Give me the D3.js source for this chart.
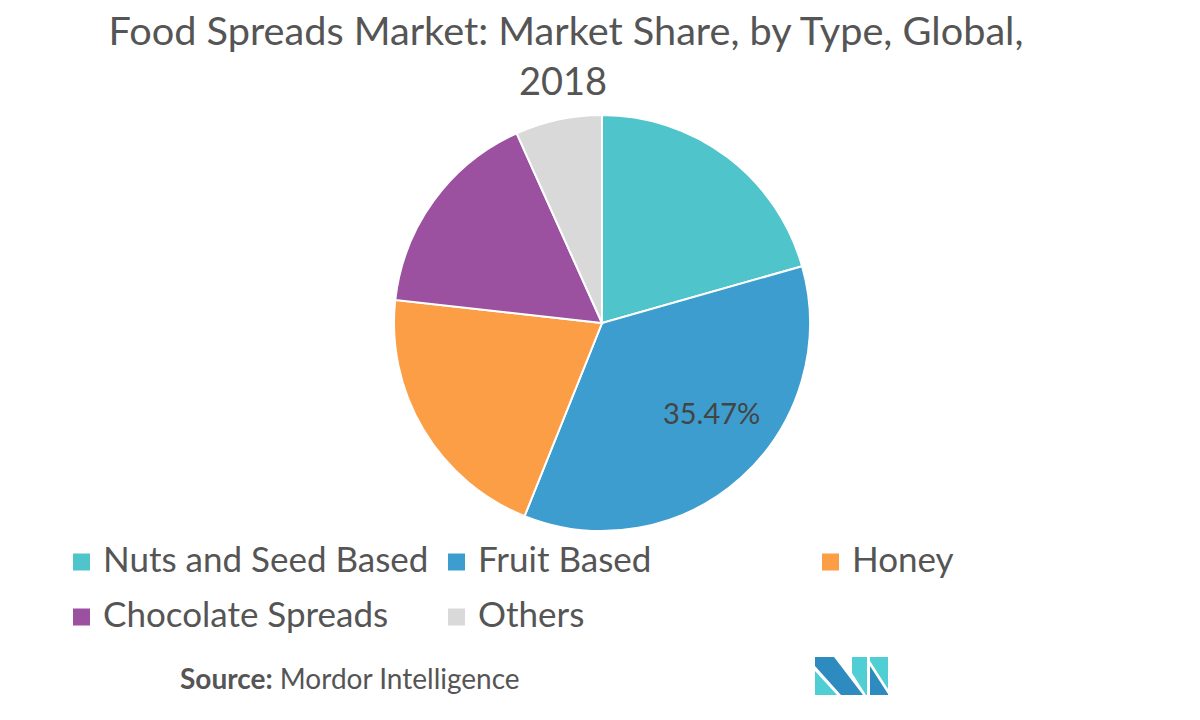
<!DOCTYPE html>
<html lang="en">
<head>
  <meta charset="utf-8">
  <title>Food Spreads Market: Market Share, by Type</title>
  <script src="https://d3js.org/d3.v7.min.js"></script>
  <style>
    body { margin: 0; background: #fff; }
    text { font-family: Lato, "Open Sans", sans-serif; }
  </style>
</head>
<body>
<script>
  // chart data
  var categories = ["Nuts and Seed Based", "Fruit Based", "Honey", "Chocolate Spreads", "Others"];
  var shares = [20.6, 35.47, 20.7, 16.5, 6.73];
  var colors = ["#4fc4ca", "#3d9dce", "#fb9e45", "#9b50a0", "#d9d9d9"];
  var labelled = ["Fruit Based"]; // only this slice carries a value label

  var width = 1200, height = 720;
  var cx = 602, cy = 323, radius = 208;

  var svg = d3.select("body").append("svg")
    .attr("width", width)
    .attr("height", height);

  // title
  var title = svg.append("text")
    .attr("text-anchor", "middle")
    .attr("fill", "#555")
    .attr("font-size", 38);
  title.append("tspan").attr("x", 566).attr("y", 45)
    .attr("textLength", 915).attr("lengthAdjust", "spacingAndGlyphs")
    .text("Food Spreads Market: Market Share, by Type, Global,");
  title.append("tspan").attr("x", 563).attr("y", 95).text("2018");

  // pie
  var data = categories.map(function(c, i) { return { name: c, value: shares[i] }; });
  var color = d3.scaleOrdinal().domain(categories).range(colors);

  var pie = d3.pie().sort(null).value(function(d) { return d.value; });
  var arc = d3.arc().innerRadius(0).outerRadius(radius);
  var labelArc = d3.arc().innerRadius(radius * 0.68).outerRadius(radius * 0.68);

  var g = svg.append("g").attr("transform", "translate(" + cx + "," + cy + ")");
  var arcs = pie(data);

  g.selectAll("path")
    .data(arcs)
    .enter().append("path")
    .attr("d", arc)
    .attr("fill", function(d) { return color(d.data.name); })
    .attr("stroke", "#fff")
    .attr("stroke-width", 2);

  g.selectAll("text.value")
    .data(arcs.filter(function(d) { return labelled.indexOf(d.data.name) >= 0; }))
    .enter().append("text")
    .attr("class", "value")
    .attr("transform", function(d) { return "translate(" + labelArc.centroid(d) + ")"; })
    .attr("text-anchor", "middle")
    .attr("dx", 15)
    .attr("dy", -4)
    .attr("font-size", 29)
    .attr("fill", "#444")
    .text(function(d) { return d.data.value.toFixed(2) + "%"; });

  // legend: 3 columns, 2 rows
  var colX = [73, 448, 822];
  var rowY = [562, 617];
  var legend = svg.append("g").selectAll("g")
    .data(categories)
    .enter().append("g")
    .attr("transform", function(d, i) {
      return "translate(" + colX[i % 3] + "," + rowY[Math.floor(i / 3)] + ")";
    });
  legend.append("rect")
    .attr("x", 0).attr("y", -8.5)
    .attr("width", 17).attr("height", 17)
    .attr("fill", function(d) { return color(d); });
  legend.append("text")
    .attr("x", 30).attr("y", 10)
    .attr("font-size", 35)
    .attr("fill", "#555")
    .text(function(d) { return d; });

  // source line
  var src = svg.append("text")
    .attr("x", 180).attr("y", 689)
    .attr("font-size", 28)
    .attr("fill", "#555");
  src.append("tspan").attr("font-weight", "bold").text("Source:");
  src.append("tspan").text(" Mordor Intelligence");

  // logo
  var logo = svg.append("g").attr("transform", "translate(815,657)");
  logo.append("polygon").attr("points", "0,14 0,38 22,38").attr("fill", "#4fcfd3");
  logo.append("polygon").attr("points", "0,0 19,0 48,38 26,38 0,9").attr("fill", "#2e8bc0");
  logo.append("polygon").attr("points", "37,0 52,0 52,38 51,38 37,16").attr("fill", "#4fcfd3");
  logo.append("polygon").attr("points", "55,0 73,0 73,32 55,4").attr("fill", "#4fcfd3");
  logo.append("polygon").attr("points", "55,9 73,37 73,38 55,38").attr("fill", "#2e8bc0");
</script>
</body>
</html>
